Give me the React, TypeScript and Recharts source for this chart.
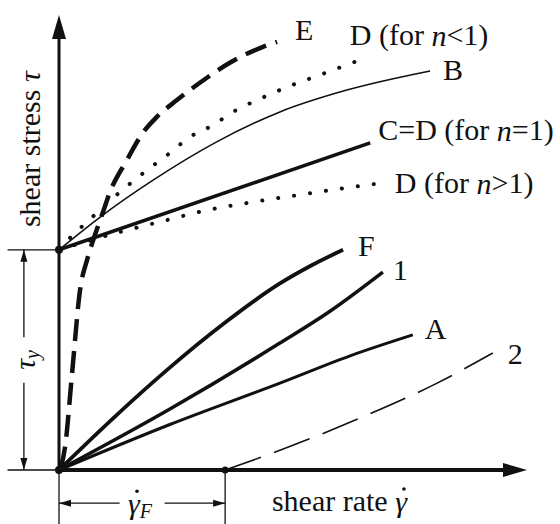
import React from "react";
import { ComposedChart, Line, XAxis, YAxis, ReferenceLine, ReferenceDot } from "recharts";

// Flow curves in arbitrary units: shear rate on x (0..100), shear stress on y (0..100)
const tauY = 48.4;
const gammaF = 35.5;

const curveE = [
  { x: 0.4, y: 0.4 }, { x: 1.3, y: 5.1 }, { x: 2.8, y: 21.3 }, { x: 4.5, y: 39.6 },
  { x: 6.0, y: 46.2 }, { x: 7.3, y: 50.5 }, { x: 9.4, y: 56.7 }, { x: 10.9, y: 61.1 },
  { x: 14.5, y: 68.1 }, { x: 17.9, y: 74.1 }, { x: 20.9, y: 77.6 }, { x: 25.2, y: 81.3 },
  { x: 30.1, y: 85.1 }, { x: 36.5, y: 89.5 }, { x: 43.6, y: 93.0 }, { x: 46.6, y: 94.1 },
];
const curveDlow = [
  { x: 0, y: 48.4 }, { x: 3.4, y: 52.1 }, { x: 6.0, y: 54.5 }, { x: 9.2, y: 57.6 },
  { x: 13.5, y: 61.5 }, { x: 18.8, y: 65.9 }, { x: 23.1, y: 69.2 }, { x: 28.0, y: 73.2 },
  { x: 32.9, y: 75.8 }, { x: 37.2, y: 78.7 }, { x: 43.4, y: 81.8 }, { x: 49.8, y: 84.6 },
  { x: 56.2, y: 87.0 }, { x: 63.2, y: 89.7 },
];
const curveB = [
  { x: 0, y: 48.4 }, { x: 8.8, y: 55.6 }, { x: 20.1, y: 63.7 }, { x: 33.3, y: 71.9 },
  { x: 47.2, y: 78.7 }, { x: 61.5, y: 83.5 }, { x: 79.3, y: 87.7 },
];
const curveC = [
  { x: 0, y: 48.4 }, { x: 66.5, y: 71.9 },
];
const curveDhigh = [
  { x: 0, y: 48.4 }, { x: 11.5, y: 51.9 }, { x: 22.2, y: 54.7 }, { x: 31.6, y: 57.1 },
  { x: 41.5, y: 58.9 }, { x: 50.9, y: 60.4 }, { x: 60.0, y: 61.8 }, { x: 69.2, y: 63.1 },
];
const curveF = [
  { x: 0, y: 0 }, { x: 11.5, y: 11.3 }, { x: 23.1, y: 22.0 }, { x: 35.5, y: 32.4 },
  { x: 47.2, y: 41.0 }, { x: 54.0, y: 45.0 }, { x: 60.7, y: 48.4 },
];
const curve1 = [
  { x: 0, y: 0 }, { x: 23.7, y: 13.4 }, { x: 47.2, y: 27.9 }, { x: 57.9, y: 34.9 },
  { x: 69.2, y: 43.5 },
];
const curveA = [
  { x: 0, y: 0 }, { x: 23.7, y: 10.0 }, { x: 47.2, y: 19.1 }, { x: 62.2, y: 25.1 },
  { x: 75.6, y: 29.7 },
];
const curve2 = [
  { x: 35.5, y: 0 }, { x: 47.9, y: 4.6 }, { x: 64.3, y: 11.4 }, { x: 80.8, y: 19.1 },
  { x: 92.7, y: 25.7 },
];

const INK = "#111";
const FONT = "'Liberation Serif', 'Times New Roman', serif";

type Dir = "up" | "down" | "left" | "right";

function arrow(dir: Dir, len: number, half: number) {
  return (p: any) => {
    const { cx, cy } = p;
    let pts = "";
    if (dir === "right") pts = `${cx},${cy} ${cx - len},${cy - half} ${cx - len},${cy + half}`;
    if (dir === "left") pts = `${cx},${cy} ${cx + len},${cy - half} ${cx + len},${cy + half}`;
    if (dir === "up") pts = `${cx},${cy} ${cx - half},${cy + len} ${cx + half},${cy + len}`;
    if (dir === "down") pts = `${cx},${cy} ${cx - half},${cy - len} ${cx + half},${cy - len}`;
    return <polygon points={pts} fill={INK} />;
  };
}

// dotX: offset of the overdot (for a gamma-dot) from the text start, if any
function tag(content: React.ReactNode, dx: number, dy: number, rotate = false, dotX?: number) {
  return (p: any) => {
    const x = p.cx + dx;
    const y = p.cy + dy;
    return (
      <g>
        <text
          x={x}
          y={y}
          fontFamily={FONT}
          fontSize={30}
          fill={INK}
          textAnchor={rotate ? "middle" : "start"}
          dominantBaseline="central"
          transform={rotate ? `rotate(-90 ${x} ${y})` : undefined}
        >
          {content}
        </text>
        {dotX !== undefined && <circle cx={x + dotX} cy={y - 12} r={1.8} fill={INK} />}
      </g>
    );
  };
}

const it = (s: string) => <tspan fontStyle="italic">{s}</tspan>;

export default function App() {
  return (
    <div style={{ position: "fixed", left: 0, top: 0, width: 560, height: 524, background: "#fff" }}>
      <ComposedChart width={560} height={524} margin={{ top: 15, right: 33, bottom: 54, left: 59 }}>
        <XAxis type="number" dataKey="x" domain={[0, 100]} hide />
        <YAxis type="number" domain={[0, 100]} hide />

        {/* axes */}
        <ReferenceLine segment={[{ x: -11, y: 0 }, { x: 0, y: 0 }]} stroke={INK} strokeWidth={1.3} ifOverflow="visible" />
        <ReferenceLine segment={[{ x: 0, y: 0 }, { x: 97, y: 0 }]} stroke={INK} strokeWidth={4} ifOverflow="visible" />
        <ReferenceLine segment={[{ x: 0, y: -12 }, { x: 0, y: 0 }]} stroke={INK} strokeWidth={1.3} ifOverflow="visible" />
        <ReferenceLine segment={[{ x: 0, y: 0 }, { x: 0, y: 97 }]} stroke={INK} strokeWidth={3} ifOverflow="visible" />
        <ReferenceDot x={100} y={0} r={1} ifOverflow="visible" shape={arrow("right", 24, 7)} />
        <ReferenceDot x={0} y={100} r={1} ifOverflow="visible" shape={arrow("up", 24, 7)} />

        {/* yield stress dimension */}
        <ReferenceLine segment={[{ x: -11, y: tauY }, { x: 0, y: tauY }]} stroke={INK} strokeWidth={1.3} ifOverflow="visible" />
        <ReferenceLine segment={[{ x: -7.5, y: 0 }, { x: -7.5, y: tauY / 2 - 5 }]} stroke={INK} strokeWidth={1.3} ifOverflow="visible" />
        <ReferenceLine segment={[{ x: -7.5, y: tauY / 2 + 5 }, { x: -7.5, y: tauY }]} stroke={INK} strokeWidth={1.3} ifOverflow="visible" />
        <ReferenceDot x={-7.5} y={tauY} r={1} ifOverflow="visible" shape={arrow("up", 12, 3.5)} />
        <ReferenceDot x={-7.5} y={0} r={1} ifOverflow="visible" shape={arrow("down", 12, 3.5)} />
        <ReferenceDot
          x={-7.5}
          y={tauY / 2}
          r={1}
          ifOverflow="visible"
          shape={tag(<>{it("τ")}<tspan fontStyle="italic" fontSize={20} dy={8}>y</tspan></>, 0, 0, true)}
        />

        {/* onset shear rate dimension */}
        <ReferenceLine segment={[{ x: gammaF, y: -12 }, { x: gammaF, y: 0 }]} stroke={INK} strokeWidth={1.3} ifOverflow="visible" />
        <ReferenceLine segment={[{ x: 0, y: -7.3 }, { x: gammaF / 2 - 4.8, y: -7.3 }]} stroke={INK} strokeWidth={1.3} ifOverflow="visible" />
        <ReferenceLine segment={[{ x: gammaF / 2 + 4.8, y: -7.3 }, { x: gammaF, y: -7.3 }]} stroke={INK} strokeWidth={1.3} ifOverflow="visible" />
        <ReferenceDot x={0} y={-7.3} r={1} ifOverflow="visible" shape={arrow("left", 12, 3.5)} />
        <ReferenceDot x={gammaF} y={-7.3} r={1} ifOverflow="visible" shape={arrow("right", 12, 3.5)} />
        <ReferenceDot
          x={gammaF / 2 - 3}
          y={-7.3}
          r={1}
          ifOverflow="visible"
          shape={tag(<>{it("γ")}<tspan fontStyle="italic" fontSize={20} dy={8}>F</tspan></>, 0, 0, false, 9)}
        />

        {/* flow curves */}
        <Line data={curveE} dataKey="y" type="monotone" stroke={INK} strokeWidth={4.5} strokeDasharray="22 10" dot={false} isAnimationActive={false} />
        <Line data={curveDlow} dataKey="y" type="monotone" stroke={INK} strokeWidth={4} strokeLinecap="round" strokeDasharray="0.1 16" dot={false} isAnimationActive={false} />
        <Line data={curveB} dataKey="y" type="monotone" stroke={INK} strokeWidth={1.6} dot={false} isAnimationActive={false} />
        <Line data={curveC} dataKey="y" type="linear" stroke={INK} strokeWidth={3.5} dot={false} isAnimationActive={false} />
        <Line data={curveDhigh} dataKey="y" type="monotone" stroke={INK} strokeWidth={4} strokeLinecap="round" strokeDasharray="0.1 16" dot={false} isAnimationActive={false} />
        <Line data={curveF} dataKey="y" type="monotone" stroke={INK} strokeWidth={3.8} dot={false} isAnimationActive={false} />
        <Line data={curve1} dataKey="y" type="monotone" stroke={INK} strokeWidth={3.5} dot={false} isAnimationActive={false} />
        <Line data={curveA} dataKey="y" type="monotone" stroke={INK} strokeWidth={3} dot={false} isAnimationActive={false} />
        <Line data={curve2} dataKey="y" type="monotone" stroke={INK} strokeWidth={1.6} strokeDasharray="38 14" dot={false} isAnimationActive={false} />

        {/* key points */}
        <ReferenceDot x={0} y={0} r={4} fill={INK} stroke="none" ifOverflow="visible" />
        <ReferenceDot x={0} y={tauY} r={4} fill={INK} stroke="none" ifOverflow="visible" />
        <ReferenceDot x={gammaF} y={0} r={3.5} fill={INK} stroke="none" ifOverflow="visible" />

        {/* curve labels */}
        <ReferenceDot x={46.6} y={94.1} r={1} ifOverflow="visible" shape={tag("E", 18, -12)} />
        <ReferenceDot x={63.2} y={89.7} r={1} ifOverflow="visible" shape={tag(<>D (for {it("n")}&lt;1)</>, -5, -27)} />
        <ReferenceDot x={79.3} y={87.7} r={1} ifOverflow="visible" shape={tag("B", 13, -1)} />
        <ReferenceDot x={66.5} y={71.9} r={1} ifOverflow="visible" shape={tag(<>C=D (for {it("n")}=1)</>, 8, -13)} />
        <ReferenceDot x={69.2} y={63.1} r={1} ifOverflow="visible" shape={tag(<>D (for {it("n")}&gt;1)</>, 12, 0)} />
        <ReferenceDot x={60.7} y={48.4} r={1} ifOverflow="visible" shape={tag("F", 15, -4)} />
        <ReferenceDot x={69.2} y={43.5} r={1} ifOverflow="visible" shape={tag("1", 10, -3)} />
        <ReferenceDot x={75.6} y={29.7} r={1} ifOverflow="visible" shape={tag("A", 12, -6)} />
        <ReferenceDot x={92.7} y={25.7} r={1} ifOverflow="visible" shape={tag("2", 15, 0)} />

        {/* axis titles */}
        <ReferenceDot x={-6.4} y={70.5} r={1} ifOverflow="visible" shape={tag(<>shear stress {it("τ")}</>, 0, 0, true)} />
        <ReferenceDot x={45.5} y={-6.8} r={1} ifOverflow="visible" shape={tag(<>shear rate {it("γ")}</>, 0, 0, false, 132)} />
      </ComposedChart>
    </div>
  );
}
